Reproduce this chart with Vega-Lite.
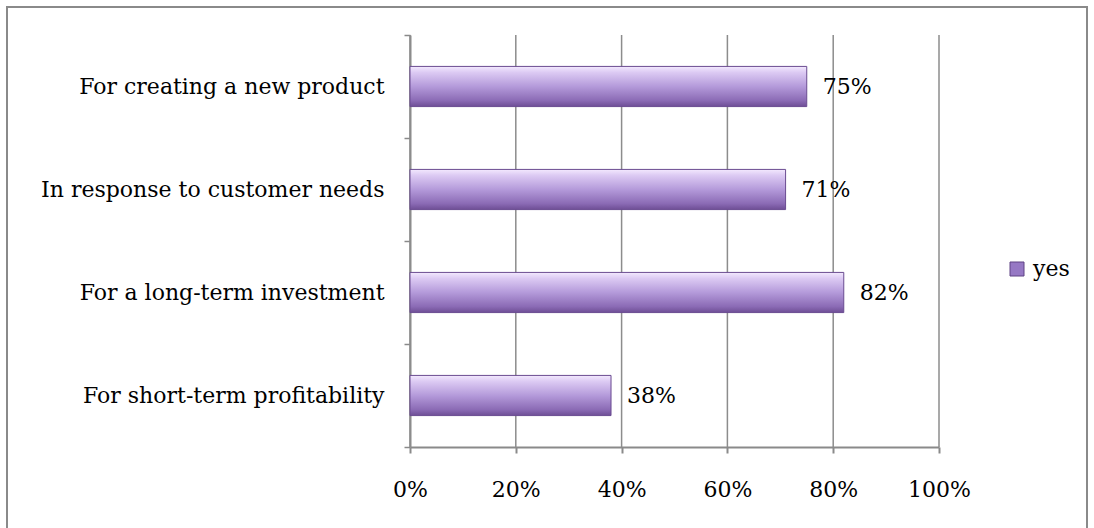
{
  "$schema": "https://vega.github.io/schema/vega-lite/v6.json",
  "autosize": "none",
  "width": 1080,
  "height": 528,
  "padding": {"left": 7, "top": 7, "right": 7, "bottom": -7},
  "background": "white",
  "config": {
    "view": {"stroke": "#8a8a8a", "strokeWidth": 2},
    "font": "DejaVu Serif"
  },
  "datasets": {
    "bars": [
      {"reason": "For creating a new product", "value": 0.75, "series": "yes"},
      {"reason": "In response to customer needs", "value": 0.71, "series": "yes"},
      {"reason": "For a long-term investment", "value": 0.82, "series": "yes"},
      {"reason": "For short-term profitability", "value": 0.38, "series": "yes"}
    ],
    "grid": [{"tick": 0}, {"tick": 0.2}, {"tick": 0.4}, {"tick": 0.6}, {"tick": 0.8}, {"tick": 1}]
  },
  "layer": [
    {
      "data": {"name": "grid"},
      "mark": {"type": "rule", "color": "#8c8c8c", "strokeWidth": 1.5},
      "encoding": {
        "x": {"field": "tick", "type": "quantitative", "scale": {"domain": [0, 1], "range": [403, 932]}},
        "y": {"datum": 0, "type": "quantitative", "scale": {"domain": [0, 1], "range": [28, 440]}, "axis": null},
        "y2": {"datum": 1}
      }
    },
    {
      "data": {"name": "bars"},
      "layer": [
        {
          "mark": {
            "type": "bar",
            "height": {"band": 0.39},
            "fill": {
              "gradient": "linear", "x1": 0, "y1": 0, "x2": 0, "y2": 1,
              "stops": [
                {"offset": 0, "color": "#f3e9fe"},
                {"offset": 0.15, "color": "#dccaf3"},
                {"offset": 0.5, "color": "#b49ada"},
                {"offset": 0.85, "color": "#8b6bb5"},
                {"offset": 1, "color": "#6e4e95"}
              ]
            },
            "stroke": "#6a4b91",
            "strokeWidth": 1
          },
          "encoding": {
            "x": {
              "field": "value", "type": "quantitative",
              "axis": {
                "orient": "bottom", "offset": -88, "values": [0, 0.2, 0.4, 0.6, 0.8, 1], "format": ".0%",
                "grid": false, "title": null, "domainColor": "#8a8a8a", "domainWidth": 2,
                "tickColor": "#8a8a8a", "tickWidth": 2, "tickSize": 6, "labelFlush": false,
                "labelFontSize": 22, "labelColor": "#000000", "labelPadding": 26, "labelFont": "DejaVu Serif"
              }
            },
            "y": {
              "field": "reason", "type": "nominal", "sort": null,
              "scale": {"range": [28, 440], "paddingInner": 0, "paddingOuter": 0},
              "axis": {
                "orient": "left", "offset": -403, "title": null, "tickBand": "extent",
                "domainColor": "#8a8a8a", "domainWidth": 2, "tickColor": "#8a8a8a", "tickWidth": 1.5, "tickSize": 6,
                "labelFontSize": 22, "labelColor": "#000000", "labelPadding": 20, "labelLimit": 0, "labelFont": "DejaVu Serif"
              }
            }
          }
        },
        {
          "mark": {"type": "text", "align": "left", "baseline": "middle", "dx": 16, "fontSize": 22, "color": "#000000", "font": "DejaVu Serif"},
          "encoding": {
            "x": {"field": "value", "type": "quantitative"},
            "y": {"field": "reason", "type": "nominal", "sort": null},
            "text": {"field": "value", "type": "quantitative", "format": ".0%"}
          }
        },
        {
          "mark": {"type": "square", "opacity": 0},
          "encoding": {
            "x": {"field": "value", "type": "quantitative"},
            "y": {"field": "reason", "type": "nominal", "sort": null},
            "color": {
              "field": "series", "type": "nominal",
              "scale": {"range": ["#9678c4"]},
              "legend": {
                "orient": "none", "legendX": 999, "legendY": 251, "title": null,
                "symbolType": "square", "symbolSize": 196, "symbolOpacity": 1,
                "symbolStrokeColor": "#5e4384", "symbolStrokeWidth": 1,
                "labelFontSize": 22, "labelFont": "DejaVu Serif", "labelColor": "#000000", "labelOffset": 5
              }
            }
          }
        }
      ]
    }
  ],
  "resolve": {"scale": {"y": "independent"}}
}
